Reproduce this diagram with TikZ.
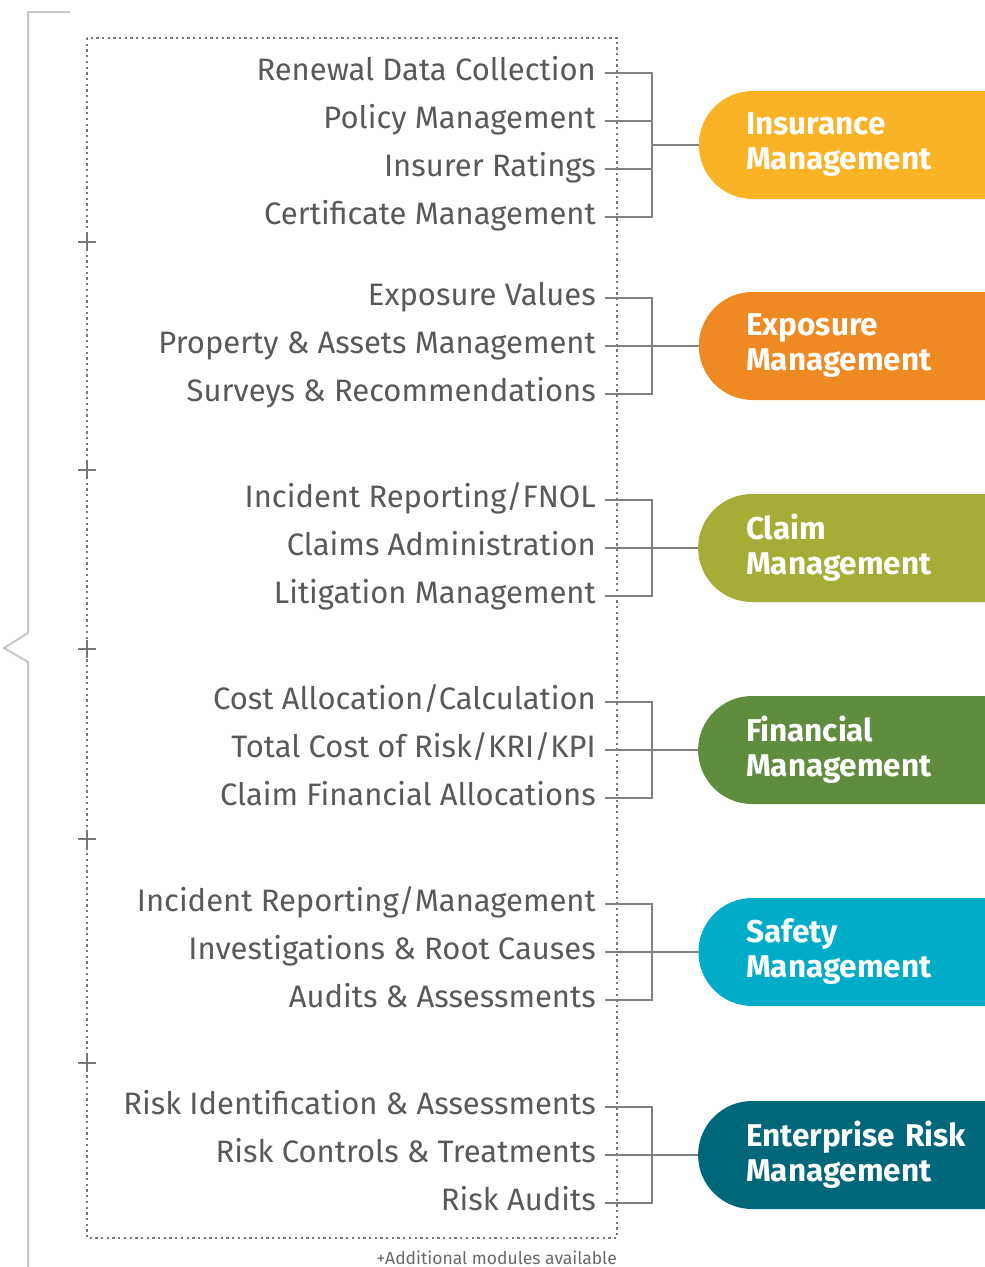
\documentclass[tikz,border=0pt]{standalone}
\usepackage{fontspec}
\setmainfont{Fira Sans}
\usetikzlibrary{shapes.misc}
\definecolor{itemgray}{RGB}{88,89,91}
\definecolor{conngray}{RGB}{128,128,128}
\definecolor{plusgray}{RGB}{120,120,120}
\definecolor{bracegray}{RGB}{200,200,200}
\definecolor{notegray}{RGB}{105,105,105}
\definecolor{insur}{RGB}{251,179,38}
\definecolor{expo}{RGB}{239,138,34}
\definecolor{claim}{RGB}{166,173,55}
\definecolor{fin}{RGB}{95,140,61}
\definecolor{safety}{RGB}{0,172,200}
\definecolor{erm}{RGB}{0,103,122}
\begin{document}
\begin{tikzpicture}[x=1pt,y=-1pt]
    \useasboundingbox (0,0) rectangle (985,1267);
    \tikzstyle{item} = [anchor=east, inner xsep=9pt, inner ysep=0pt, text height=22pt, text depth=8pt, text=itemgray, font=\fontsize{31}{36}\selectfont]
    \tikzstyle{tab} = [rounded rectangle, rounded rectangle right arc=none, minimum width=390pt, minimum height=108pt, text width=306pt, align=left, inner sep=0pt, text=white, font=\bfseries\fontsize{31.5}{35}\selectfont]
    \tikzstyle{conn} = [draw=conngray, line width=1.5pt]
    \tikzstyle{plus} = [draw=plusgray, line width=1.8pt]
    \tikzstyle{frame} = [draw=plusgray, line width=2.3pt, dash pattern=on 2.3pt off 3.4pt]
    \draw [draw=bracegray, line width=2pt] (70,12) -- (28,12) -- (28,633) -- (4,648) -- (28,662) -- (28,1267);
    \draw [frame] (87,38) rectangle (617,1238);
    \draw [plus] (78,242) -- (96,242) (87,233) -- (87,251);
    \draw [plus] (78,470) -- (96,470) (87,461) -- (87,479);
    \draw [plus] (78,649) -- (96,649) (87,640) -- (87,658);
    \draw [plus] (78,839) -- (96,839) (87,830) -- (87,848);
    \draw [plus] (78,1063) -- (96,1063) (87,1054) -- (87,1072);

    \node (r1) [item] at (605,73) {Renewal Data Collection};
    \node (r2) [item] at (605,121) {Policy Management};
    \node (r3) [item] at (605,169) {Insurer Ratings};
    \node (r4) [item] at (605,217) {Certificate Management};
    \node (t1) [tab, fill=insur] at (899,145) {Insurance\\Management};
    \coordinate (j1) at (652,145);
    \draw [conn] (r1.east) -| (j1);
    \draw [conn] (r2.east) -| (j1);
    \draw [conn] (r3.east) -| (j1);
    \draw [conn] (r4.east) -| (j1);
    \draw [conn] (j1) -- (t1.west);

    \node (e1) [item] at (605,298) {Exposure Values};
    \node (e2) [item] at (605,346) {Property \& Assets Management};
    \node (e3) [item] at (605,394) {Surveys \& Recommendations};
    \node (t2) [tab, fill=expo] at (899,346) {Exposure\\Management};
    \coordinate (j2) at (652,346);
    \draw [conn] (e1.east) -| (j2);
    \draw [conn] (e2.east) -| (j2);
    \draw [conn] (e3.east) -| (j2);
    \draw [conn] (j2) -- (t2.west);

    \node (c1) [item] at (605,500) {Incident Reporting/FNOL};
    \node (c2) [item] at (605,548) {Claims Administration};
    \node (c3) [item] at (605,596) {Litigation Management};
    \node (t3) [tab, fill=claim] at (899,548) {Claim\\Management};
    \coordinate (j3) at (652,548);
    \draw [conn] (c1.east) -| (j3);
    \draw [conn] (c2.east) -| (j3);
    \draw [conn] (c3.east) -| (j3);
    \draw [conn] (j3) -- (t3.west);

    \node (f1) [item] at (605,702) {Cost Allocation/Calculation};
    \node (f2) [item] at (605,750) {Total Cost of Risk/KRI/KPI};
    \node (f3) [item] at (605,798) {Claim Financial Allocations};
    \node (t4) [tab, fill=fin] at (899,750) {Financial\\Management};
    \coordinate (j4) at (652,750);
    \draw [conn] (f1.east) -| (j4);
    \draw [conn] (f2.east) -| (j4);
    \draw [conn] (f3.east) -| (j4);
    \draw [conn] (j4) -- (t4.west);

    \node (s1) [item] at (605,904) {Incident Reporting/Management};
    \node (s2) [item] at (605,952) {Investigations \& Root Causes};
    \node (s3) [item] at (605,1000) {Audits \& Assessments};
    \node (t5) [tab, fill=safety] at (899,952) {Safety\\Management};
    \coordinate (j5) at (652,952);
    \draw [conn] (s1.east) -| (j5);
    \draw [conn] (s2.east) -| (j5);
    \draw [conn] (s3.east) -| (j5);
    \draw [conn] (j5) -- (t5.west);

    \node (k1) [item] at (605,1107) {Risk Identification \& Assessments};
    \node (k2) [item] at (605,1155) {Risk Controls \& Treatments};
    \node (k3) [item] at (605,1203) {Risk Audits};
    \node (t6) [tab, fill=erm] at (899,1155) {Enterprise Risk\\Management};
    \coordinate (j6) at (652,1155);
    \draw [conn] (k1.east) -| (j6);
    \draw [conn] (k2.east) -| (j6);
    \draw [conn] (k3.east) -| (j6);
    \draw [conn] (j6) -- (t6.west);

    \node (note) [anchor=east, inner sep=0pt, text=notegray, font=\fontsize{17.5}{20}\selectfont] at (617,1258) {+Additional modules available};
\end{tikzpicture}
\end{document}
